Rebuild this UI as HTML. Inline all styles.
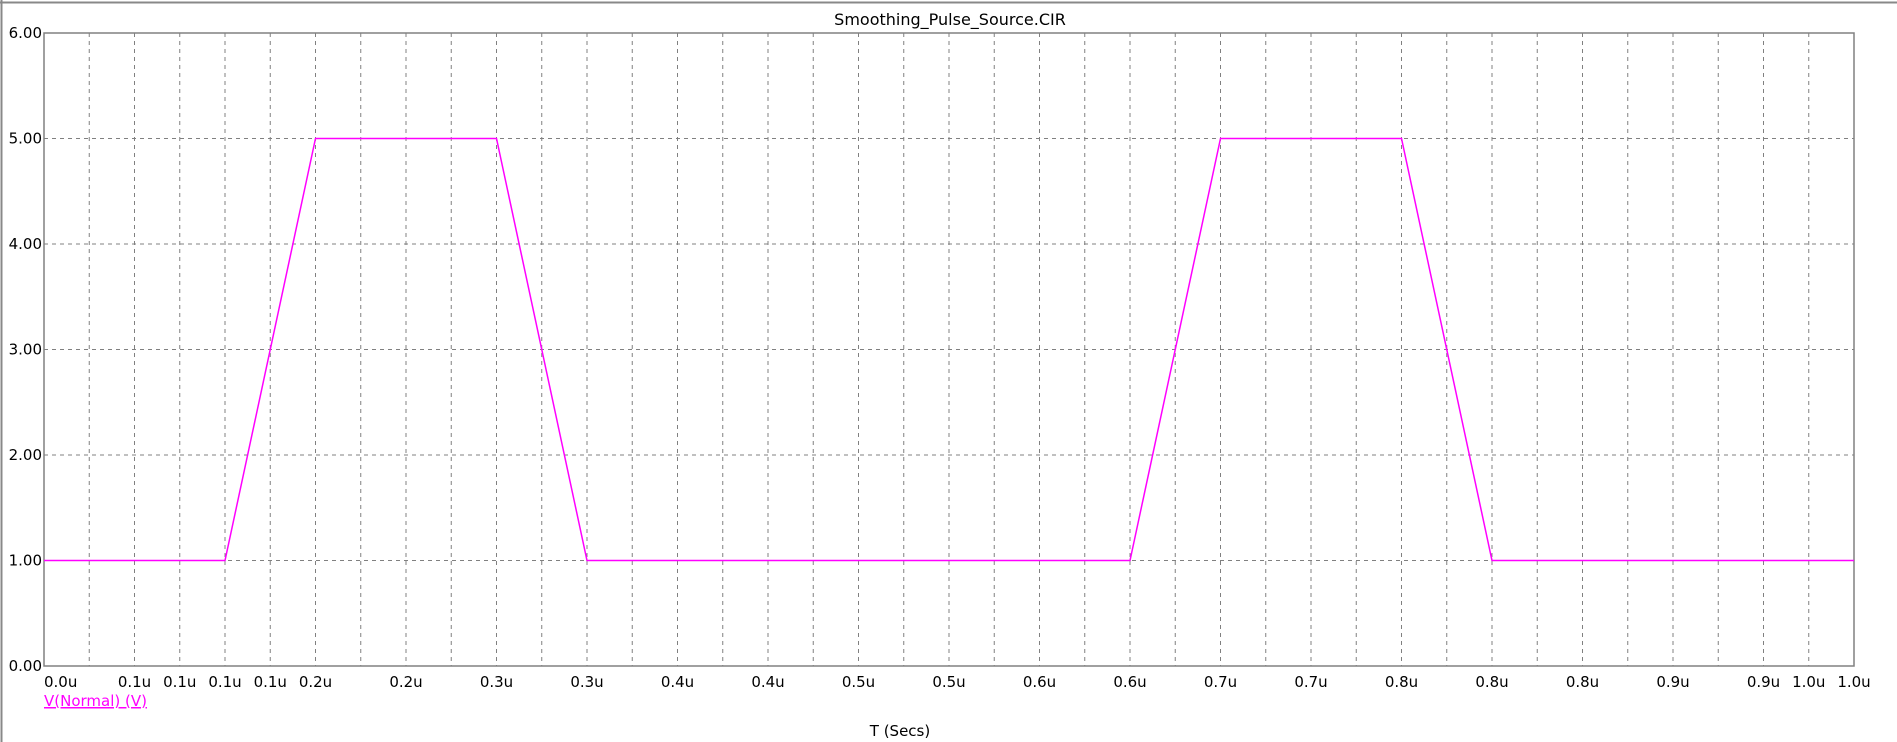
<!DOCTYPE html>
<html><head><meta charset="utf-8"><style>
html,body{margin:0;padding:0;background:#fff;}
svg{display:block;font-family:"DejaVu Sans","Liberation Sans",sans-serif;}
</style></head><body>
<svg id="chart" width="1897" height="742" xmlns="http://www.w3.org/2000/svg">
<line x1="0" y1="2.5" x2="1897" y2="2.5" stroke="#888" stroke-width="2"/>
<line x1="1.5" y1="0" x2="1.5" y2="742" stroke="#888" stroke-width="2"/>
<text x="950" y="25" font-size="16" text-anchor="middle">Smoothing_Pulse_Source.CIR</text>
<g id="grid"></g>
<g id="yticks"></g>
<g id="xticks"></g>
<rect x="44" y="33" width="1810" height="633" fill="none" stroke="#808080" stroke-width="1.5"/>
<polyline id="series" fill="none" stroke="#ff00ff" stroke-width="1.5"/>
<text x="44" y="706" font-size="15" fill="#ff00ff" text-decoration="underline">V(Normal) (V)</text>
<text x="900" y="736" font-size="15" text-anchor="middle">T (Secs)</text>
</svg>
<script>
const timesUs = [0, 0.1, 0.15, 0.25, 0.3, 0.6, 0.65, 0.75, 0.8, 1.0];
const volts = [1, 1, 5, 5, 1, 1, 5, 5, 1, 1];
const yTickValues = [0, 1, 2, 3, 4, 5, 6];
const yTickLabels = ["0.00","1.00","2.00","3.00","4.00","5.00","6.00"];
const xTickIndex = [0,2,3,4,5,6,8,10,12,14,16,18,20,22,24,26,28,30,32,34,36,38,39,40];
const xTickLabels = ["0.0u","0.1u","0.1u","0.1u","0.1u","0.2u","0.2u","0.3u","0.3u","0.4u","0.4u","0.5u","0.5u","0.6u","0.6u","0.7u","0.7u","0.8u","0.8u","0.8u","0.9u","0.9u","1.0u","1.0u"];
const L=44,R=1854,T=33,B=666, XMAX=1.0, YMAX=6, NGRID=40;
const xs = t => L + (R-L)*t/XMAX;
const ys = v => B - (B-T)*v/YMAX;
const NS="http://www.w3.org/2000/svg";
const grid=document.getElementById('grid');
for(let i=1;i<NGRID;i++){
  const x=L+(R-L)*i/NGRID;
  const ln=document.createElementNS(NS,'line');
  
  
  ln.setAttribute('x1',x);ln.setAttribute('x2',x);ln.setAttribute('y1',T);ln.setAttribute('y2',B);
  ln.setAttribute('stroke','#808080');ln.setAttribute('stroke-dasharray','4,4');
  grid.appendChild(ln);
}
const yt=document.getElementById('yticks');
yTickValues.forEach((v,i)=>{
  const y=ys(v);
  if(v>0&&v<YMAX){
    const ln=document.createElementNS(NS,'line');
    
    
    ln.setAttribute('x1',L);ln.setAttribute('x2',R);ln.setAttribute('y1',y);ln.setAttribute('y2',y);
    ln.setAttribute('stroke','#808080');ln.setAttribute('stroke-dasharray','4,4');
    grid.appendChild(ln);
  }
  const t=document.createElementNS(NS,'text');
  
  
  t.setAttribute('x',L-2);t.setAttribute('y',y+5);t.setAttribute('text-anchor','end');t.setAttribute('font-size','15');
  t.textContent=yTickLabels[i];
  yt.appendChild(t);
});
const xt=document.getElementById('xticks');
xTickIndex.forEach((g,i)=>{
  const x=L+(R-L)*g/NGRID;
  const t=document.createElementNS(NS,'text');
  
  
  t.setAttribute('x',g===0?L:x);t.setAttribute('y',687);
  t.setAttribute('text-anchor',g===0?'start':'middle');t.setAttribute('font-size','15');
  t.textContent=xTickLabels[i];
  xt.appendChild(t);
});
document.getElementById('series').setAttribute('points',timesUs.map((t,i)=>xs(t)+','+ys(volts[i])).join(' '));
</script>
</body></html>
